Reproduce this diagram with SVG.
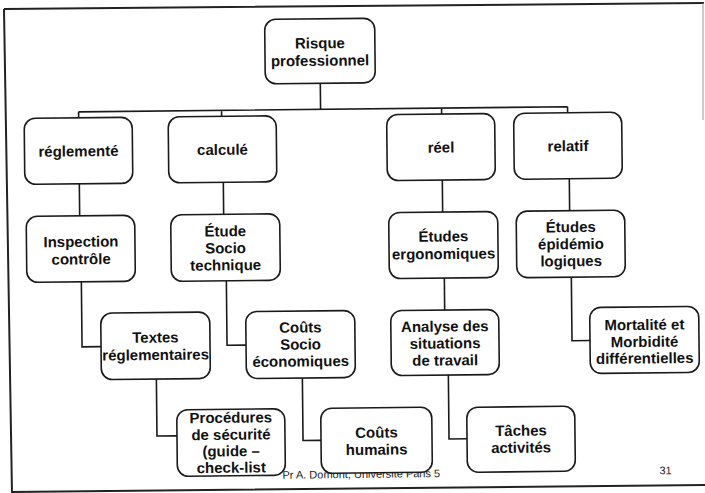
<svg xmlns="http://www.w3.org/2000/svg" width="705" height="493" viewBox="0 0 705 493">
<style>
.box{fill:#fff;stroke:#1a1a1a;stroke-width:1.6}
.t{font-family:"Liberation Sans",Arial,sans-serif;font-weight:bold;font-size:15px;fill:#111;text-anchor:middle}
.c{fill:none;stroke:#1a1a1a;stroke-width:1.6}
.frame{fill:none;stroke:#222;stroke-width:2}
.foot{font-family:"Liberation Sans",Arial,sans-serif;font-size:11px;fill:#222}
</style>
<rect width="705" height="493" fill="#fff"/>
<g id="frame">
<path class="frame" d="M4,9 L704,3 M4,9 L12,493 M12,492 L705,485"/>
<path d="M703,3 L703,120" stroke="#999" stroke-width="1" fill="none"/>
</g>
<g transform="rotate(-0.6 352 246)">
<text class="foot" x="280" y="478">Pr A. Domont, Université Paris 5</text>
<text class="foot" x="657" y="477.5">31</text>
<g id="connectors">
<path class="c" d="M322,83 V109 M80,109 H569 M80,109 V115 M223,109 V115 M443,109 V115 M569,109 V115"/>
<path class="c" d="M80,181 V213 M224,181 V213 M443,181 V213 M570,181 V213"/>
<path class="c" d="M81,279 V344 H100"/>
<path class="c" d="M226,279 V344 H245"/>
<path class="c" d="M155,377 V434 H175"/>
<path class="c" d="M301,377 V440 H319"/>
<path class="c" d="M444,279 V311"/>
<path class="c" d="M447,376 V440 H465"/>
<path class="c" d="M571,279 V343 H589"/>
</g>
<g id="risque"><rect class="box" x="267" y="18.5" width="110" height="64.5" rx="11"/>
<text class="t" x="322" y="48">Risque</text><text class="t" x="322" y="65.5">professionnel</text></g>
<g id="reglemente"><rect class="box" x="25.5" y="115" width="108" height="66" rx="11"/>
<text class="t" x="79.5" y="153.5">réglementé</text></g>
<g id="calcule"><rect class="box" x="169.5" y="115" width="108" height="66" rx="11"/>
<text class="t" x="223.5" y="153.5">calculé</text></g>
<g id="reel"><rect class="box" x="388" y="115" width="108" height="66" rx="11"/>
<text class="t" x="442" y="153.5">réel</text></g>
<g id="relatif"><rect class="box" x="515" y="115" width="108" height="66" rx="11"/>
<text class="t" x="569" y="153.5">relatif</text></g>
<g id="inspection"><rect class="box" x="26.5" y="213" width="108.5" height="66" rx="11"/>
<text class="t" x="81" y="244">Inspection</text><text class="t" x="81" y="261.5">contrôle</text></g>
<g id="etude-socio"><rect class="box" x="171" y="213" width="109" height="66.5" rx="11"/>
<text class="t" x="225.5" y="235">Étude</text><text class="t" x="225.5" y="252">Socio</text><text class="t" x="225.5" y="269">technique</text></g>
<g id="etudes-ergo"><rect class="box" x="389" y="213" width="109" height="66" rx="11"/>
<text class="t" x="443.5" y="242.5">Études</text><text class="t" x="443.5" y="260">ergonomiques</text></g>
<g id="etudes-epid"><rect class="box" x="516.5" y="213" width="108.5" height="66.5" rx="11"/>
<text class="t" x="571" y="234.5">Études</text><text class="t" x="571" y="251.5">épidémio</text><text class="t" x="571" y="268.5">logiques</text></g>
<g id="textes"><rect class="box" x="100" y="310.5" width="109" height="66.5" rx="11"/>
<text class="t" x="154.5" y="340.5">Textes</text><text class="t" x="154.5" y="358">réglementaires</text></g>
<g id="couts-socio"><rect class="box" x="245" y="310.5" width="109" height="67" rx="11"/>
<text class="t" x="299.5" y="332">Coûts</text><text class="t" x="299.5" y="349">Socio</text><text class="t" x="299.5" y="366">économiques</text></g>
<g id="analyse"><rect class="box" x="390" y="311" width="108" height="65" rx="11"/>
<text class="t" x="444" y="332.5">Analyse des</text><text class="t" x="444" y="349.5">situations</text><text class="t" x="444" y="366.5">de travail</text></g>
<g id="mortalite"><rect class="box" x="589" y="310" width="109" height="66" rx="11"/>
<text class="t" x="643.5" y="333">Mortalité et</text><text class="t" x="643.5" y="350">Morbidité</text><text class="t" x="643.5" y="366.5">différentielles</text></g>
<g id="procedures"><rect class="box" x="175" y="408" width="108" height="66.5" rx="11"/>
<text class="t" x="229" y="421.5">Procédures</text><text class="t" x="229" y="438.5">de sécurité</text><text class="t" x="229" y="455">(guide –</text><text class="t" x="229" y="471.5">check-list</text></g>
<g id="couts-humains"><rect class="box" x="319" y="408" width="111" height="65" rx="11"/>
<text class="t" x="374.5" y="438">Coûts</text><text class="t" x="374.5" y="455">humains</text></g>
<g id="taches"><rect class="box" x="465" y="408.5" width="108" height="65" rx="11"/>
<text class="t" x="519" y="437.5">Tâches</text><text class="t" x="519" y="454.5">activités</text></g>
</g>
</svg>
